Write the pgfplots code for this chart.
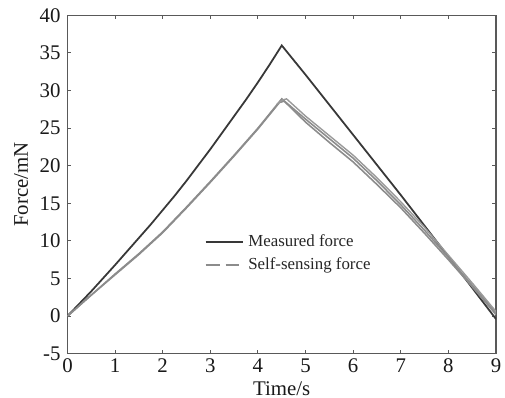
\documentclass[border=0pt]{standalone}
\usepackage{pgfplots}
\pgfplotsset{compat=1.18}
\usepackage{fontspec}
\setmainfont{Liberation Serif}
\begin{document}
\begin{tikzpicture}
\path[use as bounding box] (-34pt,-22.25pt) rectangle (220.5pt,178.25pt);
\begin{axis}[
  at={(0,0)}, anchor=south west,
  scale only axis, width=216pt, height=170.5pt,
  xmin=0, xmax=9, ymin=-5, ymax=40,
  xtick={0,1,...,9}, ytick={-5,0,5,...,40},
  tick align=inside, major tick length=2pt,
  axis line style={black!65, line width=0.6pt},
  every tick/.style={black!65, line width=0.5pt},
  ticklabel style={font=\fontsize{10.5}{12}\selectfont, text=black!90},
  /pgf/number format/assume math mode=true,
  xlabel={Time/s}, ylabel={Force/mN},
  label style={font=\fontsize{10.5}{12}\selectfont, text=black!90},
  xlabel style={yshift=2.5pt},
  ylabel style={yshift=-1pt},
  xticklabel style={yshift=1pt},
  legend style={at={(rel axis cs:0.315,0.37)}, anchor=north west, draw=none, fill=none,
    font=\fontsize{8.5}{10}\selectfont, text=black!85, row sep=0pt, inner sep=1pt},
  legend cell align=left,
  legend image code/.code={\draw[#1] (0pt,0pt) -- (19pt,0pt);},
]
\addplot[black!78, line width=0.9pt] coordinates {
(0,0) (0.5,3.3) (1,6.8) (1.5,10.4) (1.75,12.2) (2,14.1) (2.25,16.0) (2.5,18.0) (2.75,20.1) (3,22.2) (3.25,24.4) (3.5,26.6) (3.75,28.8) (4,31.1) (4.25,33.5) (4.5,36.0)
(5,32.1) (6,24.1) (7,16.1) (8,7.9) (9,-0.4)};
\addlegendentry{Measured force}
\addplot[black!45, line width=0.8pt,
  legend image code/.code={\draw[black!45, line width=0.8pt, dash pattern=on 7pt off 3pt] (0pt,0pt) -- (19pt,0pt);}] coordinates {
(0,0) (0.5,2.8) (1,5.6) (1.5,8.3) (2,11.2) (2.5,14.5) (3,17.9) (3.5,21.4) (4,25.0) (4.5,28.9)
(5,26.2) (5.5,23.6) (6,21.0) (6.5,18.0) (7,14.8) (7.5,11.4) (8,7.8) (8.5,4.1) (9,0.4)};
\addlegendentry{Self-sensing force}
\addplot[black!45, line width=0.8pt, forget plot] coordinates {
(0,0) (0.5,2.8) (1,5.5) (1.5,8.2) (2,11.1) (2.5,14.4) (3,17.8) (3.5,21.3) (4,24.9) (4.45,28.4) (4.55,28.6)
(5,25.8) (5.5,23.1) (6,20.5) (6.5,17.5) (7,14.4) (7.5,11.0) (8,7.5) (8.5,3.9) (9,0.2)};
\addplot[black!40, line width=0.7pt, forget plot] coordinates {
(4.4,28.2) (4.5,28.7) (4.6,28.9) (5,26.6) (5.5,24.0) (6,21.4) (6.5,18.4) (7,15.2) (7.5,11.8) (8,8.1) (8.5,4.4) (9,0.6)};
\end{axis}
\end{tikzpicture}
\end{document}
